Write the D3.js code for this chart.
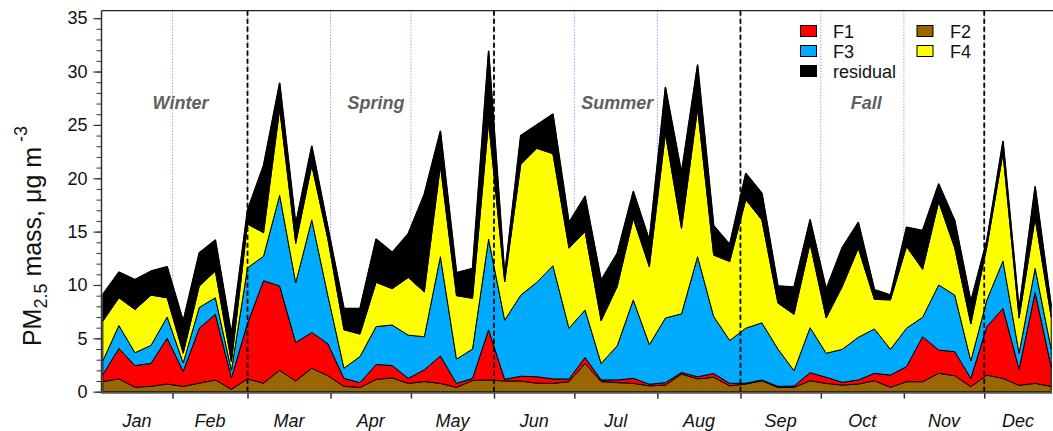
<!DOCTYPE html>
<html><head><meta charset="utf-8">
<script src="https://cdn.jsdelivr.net/npm/d3@7"></script>
<style>
body{margin:0;background:#fff;}
svg{display:block;font-family:"Liberation Sans",Arial,sans-serif;}
</style>
</head><body>
<svg id="chart" width="1053" height="431"></svg>
<script>
// ---------- data ----------
const dates = ["2006-01-06","2006-01-12","2006-01-18","2006-01-24","2006-01-30","2006-02-05","2006-02-11","2006-02-17","2006-02-23","2006-03-01",
"2006-03-07","2006-03-13","2006-03-19","2006-03-25","2006-03-31","2006-04-06","2006-04-12","2006-04-18","2006-04-24","2006-04-30",
"2006-05-06","2006-05-12","2006-05-18","2006-05-24","2006-05-30","2006-06-05","2006-06-11","2006-06-17","2006-06-23","2006-06-29",
"2006-07-05","2006-07-11","2006-07-17","2006-07-23","2006-07-29","2006-08-04","2006-08-10","2006-08-16","2006-08-22","2006-08-28",
"2006-09-03","2006-09-09","2006-09-15","2006-09-21","2006-09-27","2006-10-03","2006-10-09","2006-10-15","2006-10-21","2006-10-27",
"2006-11-02","2006-11-08","2006-11-14","2006-11-20","2006-11-26","2006-12-02","2006-12-08","2006-12-14","2006-12-20","2006-12-26"];

const F2 = [0.95,1.2,0.42,0.5,0.72,0.5,0.8,1.1,0.22,1.2, 0.8,2.0,1.0,2.2,1.5,0.5,0.4,1.15,1.3,0.78,
0.95,0.78,0.4,1.05,1.1,1.0,1.0,0.8,0.78,0.94, 2.65,0.95,0.85,0.78,0.55,0.62,1.65,1.2,1.35,0.55,
0.72,1.03,0.4,0.4,1.03,0.78,0.62,0.72,1.03,0.41, 0.94,0.94,1.72,1.5,0.47,1.55,1.25,0.6,0.78,0.5];

const F1 = [0.65,2.85,2.03,2.15,4.28,1.4,5.15,6.15,1.08,5.2, 9.6,7.9,3.6,3.35,3.0,0.75,0.45,1.4,1.15,0.47,
1.1,2.57,0.38,0.2,4.7,0.15,0.45,0.6,0.42,0.25, 0.55,0.15,0.25,0.47,0.15,0.23,0.15,0.2,0.35,0.23,
0.08,0.07,0.1,0.13,0.75,0.57,0.26,0.38,0.69,1.15, 1.41,4.21,2.18,2.25,0.78,4.55,6.55,1.5,8.52,1.8];

const F3 = [1.3,2.15,1.2,1.7,2.0,0.8,1.95,1.55,0.7,5.2, 2.3,8.5,5.6,10.55,4.5,0.95,2.45,3.55,3.8,4.05,
3.1,9.3,2.27,2.75,8.5,5.55,7.6,8.85,10.6,4.76, 4.45,1.55,3.2,7.35,3.7,6.05,5.5,11.25,5.35,4.02,
5.15,5.35,3.5,1.44,4.22,2.25,3.09,4.0,4.16,2.41, 3.6,1.82,6.1,5.3,1.63,2.5,4.45,1.5,2.25,1.7];

const F4 = [3.7,2.6,4.05,4.7,1.8,0.9,2.0,2.5,0.8,4.1, 2.2,8.1,3.7,5.1,5.3,3.6,2.1,4.15,3.4,5.4,
4.2,8.55,5.95,4.75,11.0,3.6,12.25,12.55,10.5,7.5, 7.35,4.0,5.55,7.65,7.3,17.3,8.0,13.9,5.75,7.4,
12.05,9.65,4.3,5.28,7.9,3.3,5.88,8.35,2.77,4.63, 7.65,4.5,7.8,4.4,3.47,5.0,10.1,3.3,4.7,3.0];

const residual = [2.5,2.4,2.8,2.25,2.9,3.0,3.1,2.9,2.6,1.3, 6.3,2.4,1.8,1.8,1.1,2.0,2.4,4.05,3.4,4.1,
9.15,3.2,2.15,2.8,6.6,0.6,2.7,2.2,3.7,2.4, 3.3,3.8,3.1,2.5,2.5,4.3,5.2,4.05,2.75,1.6,
2.45,2.5,1.6,2.55,2.2,2.7,3.65,2.4,0.9,0.45, 1.8,3.63,1.65,2.55,2.1,0.6,1.1,0.8,2.95,1.0];

const seriesKeys = ["F2","F1","F3","F4","residual"];
const seriesColors = {F2:"#996600", F1:"#ff0000", F3:"#00aaff", F4:"#ffff00", residual:"#000000"};
const legendCol1 = ["F1","F3","residual"];
const legendCol2 = ["F2","F4"];

const yTicks = [0,5,10,15,20,25,30,35];
const yMinorTicks = d3.range(0, 36, 1);
const monthNames = ["Jan","Feb","Mar","Apr","May","Jun","Jul","Aug","Sep","Oct","Nov","Dec"];
const seasonNames = ["Winter","Spring","Summer","Fall"];
const seasonLabelDates = ["2006-02-04","2006-04-18","2006-07-17","2006-10-18"];
const seasonStarts = ["2006-03-01","2006-06-01","2006-09-01","2006-12-01"];

// ---------- layout ----------
const parse = d3.timeParse("%Y-%m-%d");
const L = 101.5, R = 1052, T = 10.7, B = 391.7;
const svg = d3.select("#chart");

const x = d3.scaleTime()
  .domain([new Date(2006,0,1), new Date(2007,0,1)])
  .range([89.45, 89.45 + 365*2.679]);
const y = d3.scaleLinear().domain([0, 35.7]).range([B, T]);

const rows = dates.map((d,i) => ({date: parse(d), F2:F2[i], F1:F1[i], F3:F3[i], F4:F4[i], residual:residual[i]}));
const stacked = d3.stack().keys(seriesKeys)(rows);

const monthStarts = d3.timeMonth.range(new Date(2006,0,1), new Date(2007,1,1));
const boundaries = monthStarts.filter(m => x(m) > L + 1 && x(m) < R);
const seasonSet = new Set(seasonStarts.map(s => +parse(s)));

// clip
svg.append("defs").append("clipPath").attr("id","plot")
  .append("rect").attr("x", L).attr("y", T).attr("width", R - L + 1).attr("height", B - T + 1);

// blue dotted month lines (behind)
svg.append("g").selectAll("line").data(boundaries).join("line")
  .attr("x1", d => x(d)).attr("x2", d => x(d))
  .attr("y1", T).attr("y2", B)
  .attr("stroke", "#7070ff").attr("stroke-width", 1).attr("stroke-dasharray", "1,2");

// areas
const area = d3.area()
  .x(d => x(d.data.date))
  .y0(d => y(d[0]))
  .y1(d => y(d[1]));
const topLine = d3.line().x(d => x(d.data.date)).y(d => y(d[1]));

const gA = svg.append("g").attr("clip-path","url(#plot)");
gA.selectAll("path.area").data(stacked).join("path")
  .attr("class","area")
  .attr("d", area)
  .attr("fill", s => seriesColors[s.key])
  .attr("stroke", "#000").attr("stroke-width", 1).attr("stroke-linejoin","round");
gA.append("path").datum(stacked[stacked.length-1])
  .attr("d", topLine).attr("fill","none").attr("stroke","#000").attr("stroke-width",1.6).attr("stroke-linejoin","round");

// season dashed lines (on top)
svg.append("g").selectAll("line").data(boundaries.filter(d => seasonSet.has(+d))).join("line")
  .attr("x1", d => x(d)).attr("x2", d => x(d))
  .attr("y1", T).attr("y2", B)
  .attr("stroke", "#000").attr("stroke-width", 1.8).attr("stroke-dasharray", "5,3");

// frame top
svg.append("line").attr("x1", L).attr("x2", 1053).attr("y1", T).attr("y2", T)
  .attr("stroke", "#222").attr("stroke-width", 1.2);

// y axis
const yAxisMinor = d3.axisLeft(y).tickValues(yMinorTicks).tickSize(5).tickFormat("");
const gYm = svg.append("g").attr("transform", `translate(${L},0)`).call(yAxisMinor);
gYm.select(".domain").remove();
gYm.selectAll(".tick line").attr("stroke","#333");

const yAxis = d3.axisLeft(y).tickValues(yTicks).tickSize(8).tickPadding(6).tickFormat(d3.format("d"));
const gY = svg.append("g").attr("transform", `translate(${L},0)`).call(yAxis);
gY.select(".domain").remove();
gY.selectAll(".tick line").attr("stroke","#333").attr("stroke-width",1.2);
gY.selectAll(".tick text").attr("font-size", 18).attr("fill","#111")
  .attr("font-family", '"Liberation Sans",Arial,sans-serif');
svg.append("line").attr("x1", L).attr("x2", L).attr("y1", T).attr("y2", B + 1.5)
  .attr("stroke", "#333").attr("stroke-width", 1.5);

// x axis
const xAxis = d3.axisBottom(x).tickValues(boundaries).tickSize(6).tickFormat("");
const gX = svg.append("g").attr("transform", `translate(0,${B + 1})`).call(xAxis);
gX.select(".domain").remove();
gX.selectAll(".tick line").attr("stroke","#333").attr("stroke-width",1.5);
svg.append("line").attr("x1", L).attr("x2", R).attr("y1", B + 1).attr("y2", B + 1)
  .attr("stroke", "#555").attr("stroke-width", 2);

// month labels
const monthSpans = monthStarts.slice(0,12).map((m,i) => {
  const a = Math.max(x(m), L), b = Math.min(x(monthStarts[i+1]), R);
  return {name: monthNames[i], cx: (a+b)/2};
});
svg.append("g").selectAll("text").data(monthSpans).join("text")
  .attr("x", d => d.cx).attr("y", 427)
  .attr("text-anchor","middle").attr("font-size", 18).attr("font-style","italic").attr("fill","#111")
  .text(d => d.name);

// season labels
svg.append("g").selectAll("text").data(seasonNames).join("text")
  .attr("x", (d,i) => x(parse(seasonLabelDates[i]))).attr("y", 109)
  .attr("text-anchor","middle").attr("font-size", 18).attr("font-style","italic").attr("font-weight","bold")
  .attr("fill","#5f5f5f")
  .text(d => d);

// y title
const yt = svg.append("text")
  .attr("transform", "translate(41,236) rotate(-90)")
  .attr("text-anchor","middle").attr("font-size", 25).attr("fill","#111");
yt.append("tspan").text("PM");
yt.append("tspan").attr("dy", 6).attr("font-size", 18).text("2.5");
yt.append("tspan").attr("dy", -6).text(" mass, μg m");
yt.append("tspan").attr("dy", -14).attr("font-size", 18).text(" -3");

// legend
function legendColumn(keys, sx, tx) {
  const g = svg.append("g");
  keys.forEach((k, i) => {
    const cy = 31 + i * 20;
    g.append("rect").attr("x", sx).attr("y", cy - 5.5).attr("width", 16).attr("height", 11)
      .attr("fill", seriesColors[k]).attr("stroke", "#000").attr("stroke-width", 1);
    g.append("text").attr("x", tx).attr("y", cy + 6.5).attr("font-size", 18).attr("fill","#111").text(k);
  });
}
legendColumn(legendCol1, 800.5, 833);
legendColumn(legendCol2, 917, 950);
</script>
</body></html>
